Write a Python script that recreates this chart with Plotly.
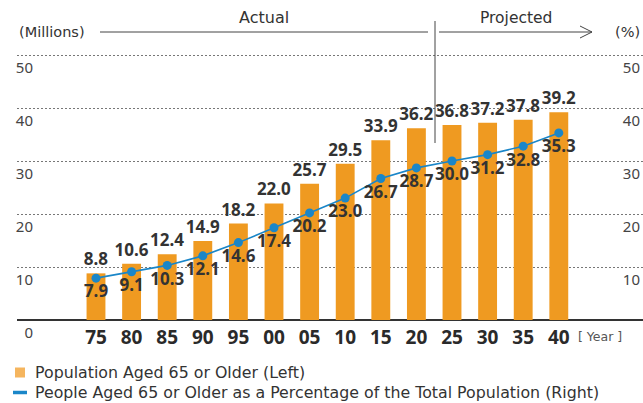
import plotly.graph_objects as go

# Data
years = ["75", "80", "85", "90", "95", "00", "05", "10", "15", "20", "25", "30", "35", "40"]
population_65_plus = [8.8, 10.6, 12.4, 14.9, 18.2, 22.0, 25.7, 29.5, 33.9, 36.2, 36.8, 37.2, 37.8, 39.2]
share_65_plus = [7.9, 9.1, 10.3, 12.1, 14.6, 17.4, 20.2, 23.0, 26.7, 28.7, 30.0, 31.2, 32.8, 35.3]
y_ticks = [0, 10, 20, 30, 40, 50]

W, H = 643, 403
FONT = "Noto Sans"
TEXT_FONT = "DejaVu Sans"
BAR = "#EF9A21"
BAR_LEGEND = "#F5B55E"
LINE = "#1A86C8"
TEXT = "#333333"


def px(x):
    return x / W


def py(y):
    return (H - y) / H


idx = list(range(len(years)))

fig = go.Figure()

fig.add_trace(go.Bar(
    x=idx, y=population_65_plus, width=0.53,
    marker=dict(color=BAR, line=dict(width=0)),
    texttemplate="%{y:.1f}", textposition="outside", textangle=0,
    constraintext="none", cliponaxis=False,
    textfont=dict(family=FONT, size=17, color=TEXT, weight=700),
    showlegend=False, yaxis="y",
))

fig.add_trace(go.Scatter(
    x=idx, y=share_65_plus, mode="lines+markers+text",
    line=dict(color=LINE, width=1.6),
    marker=dict(color=LINE, size=9),
    text=[f"{v:.1f}" for v in share_65_plus], textposition="bottom center",
    textfont=dict(family=FONT, size=17, color=TEXT, weight=700),
    cliponaxis=False, showlegend=False, yaxis="y2",
))

shapes = [
    # header arrows and Actual/Projected divider
    dict(type="line", xref="paper", yref="paper", x0=px(100), x1=px(428), y0=py(32), y1=py(32),
         line=dict(color="#444", width=1)),
    dict(type="line", xref="paper", yref="paper", x0=px(439), x1=px(592), y0=py(32), y1=py(32),
         line=dict(color="#444", width=1)),
    dict(type="line", xref="paper", yref="paper", x0=px(580), x1=px(592), y0=py(26), y1=py(32),
         line=dict(color="#444", width=1)),
    dict(type="line", xref="paper", yref="paper", x0=px(580), x1=px(592), y0=py(38), y1=py(32),
         line=dict(color="#444", width=1)),
    dict(type="line", xref="paper", yref="paper", x0=px(435), x1=px(435), y0=py(21), y1=py(143),
         line=dict(color="#444", width=1)),
    # legend swatches
    dict(type="rect", xref="paper", yref="paper", x0=px(15), x1=px(25), y0=py(367.5), y1=py(377.5),
         fillcolor=BAR_LEGEND, line=dict(width=0)),
    dict(type="line", xref="paper", yref="paper", x0=px(13), x1=px(27), y0=py(392.5), y1=py(392.5),
         line=dict(color=LINE, width=3.5)),
]

annotations = [
    dict(text="(Millions)", x=px(17), y=py(32), xanchor="left", yanchor="middle",
         font=dict(family=TEXT_FONT, size=14.5, color=TEXT)),
    dict(text="Actual", x=px(264), y=py(18), xanchor="center", yanchor="middle",
         font=dict(family=TEXT_FONT, size=16, color=TEXT)),
    dict(text="Projected", x=px(516), y=py(18), xanchor="center", yanchor="middle",
         font=dict(family=TEXT_FONT, size=15.5, color=TEXT)),
    dict(text="(%)", x=px(642), y=py(32), xanchor="right", yanchor="middle",
         font=dict(family=TEXT_FONT, size=14.5, color=TEXT)),
    dict(text="[ Year ]", x=px(600), y=py(336), xanchor="center", yanchor="middle",
         font=dict(family=TEXT_FONT, size=12.5, color="#555")),
    dict(text="Population Aged 65 or Older (Left)", x=px(33), y=py(372.5), xanchor="left", yanchor="middle",
         font=dict(family=TEXT_FONT, size=15.8, color=TEXT)),
    dict(text="People Aged 65 or Older as a Percentage of the Total Population (Right)",
         x=px(33), y=py(392.5), xanchor="left", yanchor="middle",
         font=dict(family=TEXT_FONT, size=15.8, color=TEXT)),
]
for a in annotations:
    a.update(xref="paper", yref="paper", showarrow=False)

y_range = [0, 52]
y_dom = [py(320), py(320 - 52 * 5.3)]

fig.update_layout(
    width=W, height=H, margin=dict(l=0, r=0, t=0, b=0, autoexpand=False),
    paper_bgcolor="white", plot_bgcolor="white",
    font=dict(family=FONT, color=TEXT),
    bargap=0.4,
    xaxis=dict(
        domain=[px(17), 1], range=[-2.219, 15.365], automargin=False,
        tickmode="array", tickvals=idx, ticktext=years,
        tickfont=dict(family=FONT, size=19, color="#2a2a2a", weight=700),
        ticklabelstandoff=4,
        showgrid=False, zeroline=False, showline=False, ticks="",
    ),
    yaxis=dict(
        domain=y_dom, range=y_range, anchor="free", position=px(33), automargin=False,
        tickmode="array", tickvals=y_ticks,
        tickfont=dict(family=FONT, size=15, color="#444"),
        ticklabelshift=13, ticks="",
        showgrid=True, gridcolor="#777", griddash="2px,2px", gridwidth=1,
        zeroline=True, zerolinecolor="#333", zerolinewidth=2,
        showline=False,
    ),
    yaxis2=dict(
        domain=y_dom, range=y_range, overlaying="y", side="right",
        anchor="free", position=1, automargin=False,
        tickmode="array", tickvals=y_ticks,
        tickfont=dict(family=FONT, size=15, color="#444"),
        ticklabelposition="inside", ticklabelshift=13, ticks="",
        showgrid=False, zeroline=False, showline=False,
    ),
    shapes=shapes,
    annotations=annotations,
)

fig.write_html("out.html")
